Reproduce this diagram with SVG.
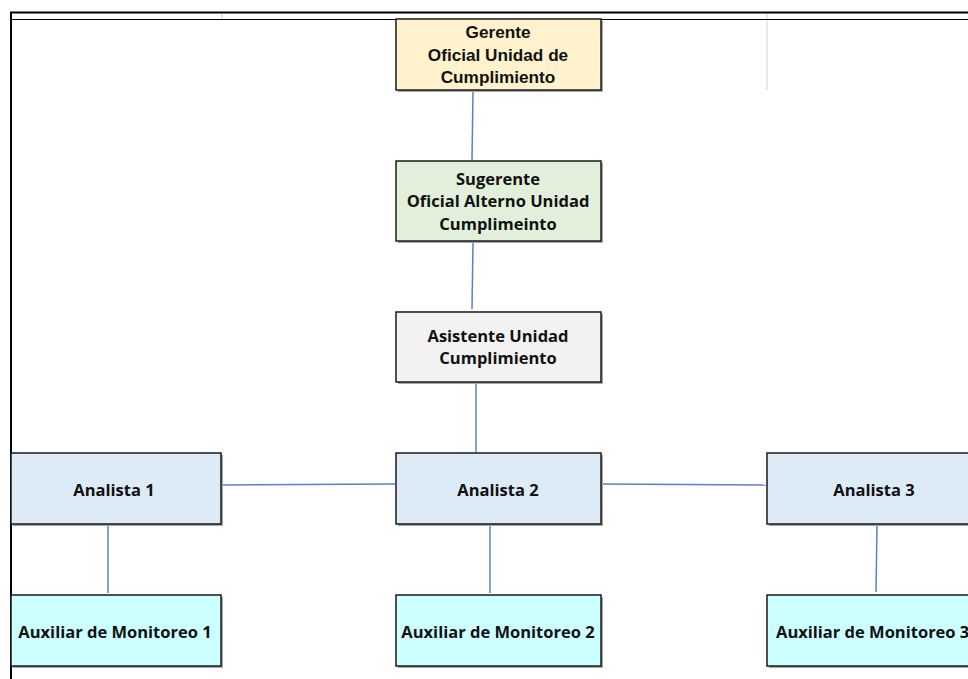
<svg xmlns="http://www.w3.org/2000/svg" width="968" height="679" viewBox="0 0 968 679">
<style>
.box{stroke:#1a1a1a;stroke-width:1.5}
.sh{fill:#a6a6a6}
.t{font-family:"Open Sans","Liberation Sans",sans-serif;font-weight:bold;font-size:16.5px;fill:#111;text-anchor:middle}
.tc{font-family:"Liberation Sans",sans-serif;font-weight:bold;font-size:17.2px;fill:#111;text-anchor:middle}
.c{stroke:#5b7fd0;stroke-width:1.5;fill:none}
.g{stroke:#d0d0d0;stroke-width:1}
</style>
<rect x="0" y="0" width="968" height="679" fill="#fff"/>
<g id="frame">
<line class="g" x1="222" y1="12" x2="222" y2="19"/>
<line class="g" x1="767" y1="12" x2="767" y2="90"/>
<line x1="10" y1="12.5" x2="968" y2="12.5" stroke="#000" stroke-width="2"/>
<line x1="10" y1="19.5" x2="968" y2="19.5" stroke="#000" stroke-width="1.2"/>
<line x1="11" y1="12" x2="11" y2="679" stroke="#000" stroke-width="2"/>
</g>
<g id="connectors">
<line class="c" x1="473" y1="91" x2="472" y2="160"/>
<line class="c" x1="473" y1="243" x2="472" y2="309"/>
<line class="c" x1="476" y1="384" x2="476" y2="452"/>
<line class="c" x1="222" y1="485" x2="395" y2="484"/>
<line class="c" x1="603" y1="484" x2="766" y2="485"/>
<line class="c" x1="108" y1="526" x2="108" y2="593"/>
<line class="c" x1="490" y1="526" x2="490" y2="593"/>
<line class="c" x1="877" y1="526" x2="876" y2="592"/>
</g>
<g id="gerente">
<rect class="sh" x="398" y="21" width="205" height="71"/>
<rect class="box" x="396" y="19" width="205" height="71" fill="#fff2cc"/>
<text class="tc" x="498" y="38">Gerente</text>
<text class="tc" x="498" y="61">Oficial Unidad de</text>
<text class="tc" x="498" y="83">Cumplimiento</text>
</g>
<g id="sugerente">
<rect class="sh" x="398" y="163" width="205" height="80"/>
<rect class="box" x="396" y="161" width="205" height="80" fill="#e2efda"/>
<text class="t" x="498" y="185">Sugerente</text>
<text class="t" x="498" y="207">Oficial Alterno Unidad</text>
<text class="t" x="498" y="230">Cumplimeinto</text>
</g>
<g id="asistente">
<rect class="sh" x="398" y="314" width="205" height="70"/>
<rect class="box" x="396" y="312" width="205" height="70" fill="#f2f2f2"/>
<text class="t" x="498" y="342">Asistente Unidad</text>
<text class="t" x="498" y="364">Cumplimiento</text>
</g>
<g id="analista1">
<rect class="sh" x="13" y="455" width="210" height="71"/>
<rect class="box" x="11" y="453" width="210" height="71" fill="#ddebf7"/>
<text class="t" x="114" y="496">Analista 1</text>
</g>
<g id="analista2">
<rect class="sh" x="398" y="455" width="205" height="71"/>
<rect class="box" x="396" y="453" width="205" height="71" fill="#ddebf7"/>
<text class="t" x="498" y="496">Analista 2</text>
</g>
<g id="analista3">
<rect class="sh" x="769" y="455" width="215" height="71"/>
<rect class="box" x="767" y="453" width="215" height="71" fill="#ddebf7"/>
<text class="t" x="874" y="496">Analista 3</text>
</g>
<g id="auxiliar1">
<rect class="sh" x="13" y="597" width="210" height="71"/>
<rect class="box" x="11" y="595" width="210" height="71" fill="#ccffff"/>
<text class="t" x="115" y="638">Auxiliar de Monitoreo 1</text>
</g>
<g id="auxiliar2">
<rect class="sh" x="398" y="597" width="205" height="71"/>
<rect class="box" x="396" y="595" width="205" height="71" fill="#ccffff"/>
<text class="t" x="498" y="638">Auxiliar de Monitoreo 2</text>
</g>
<g id="auxiliar3">
<rect class="sh" x="769" y="597" width="215" height="71"/>
<rect class="box" x="767" y="595" width="215" height="71" fill="#ccffff"/>
<text class="t" x="776" y="638" style="text-anchor:start">Auxiliar de Monitoreo 3</text>
</g>
</svg>
